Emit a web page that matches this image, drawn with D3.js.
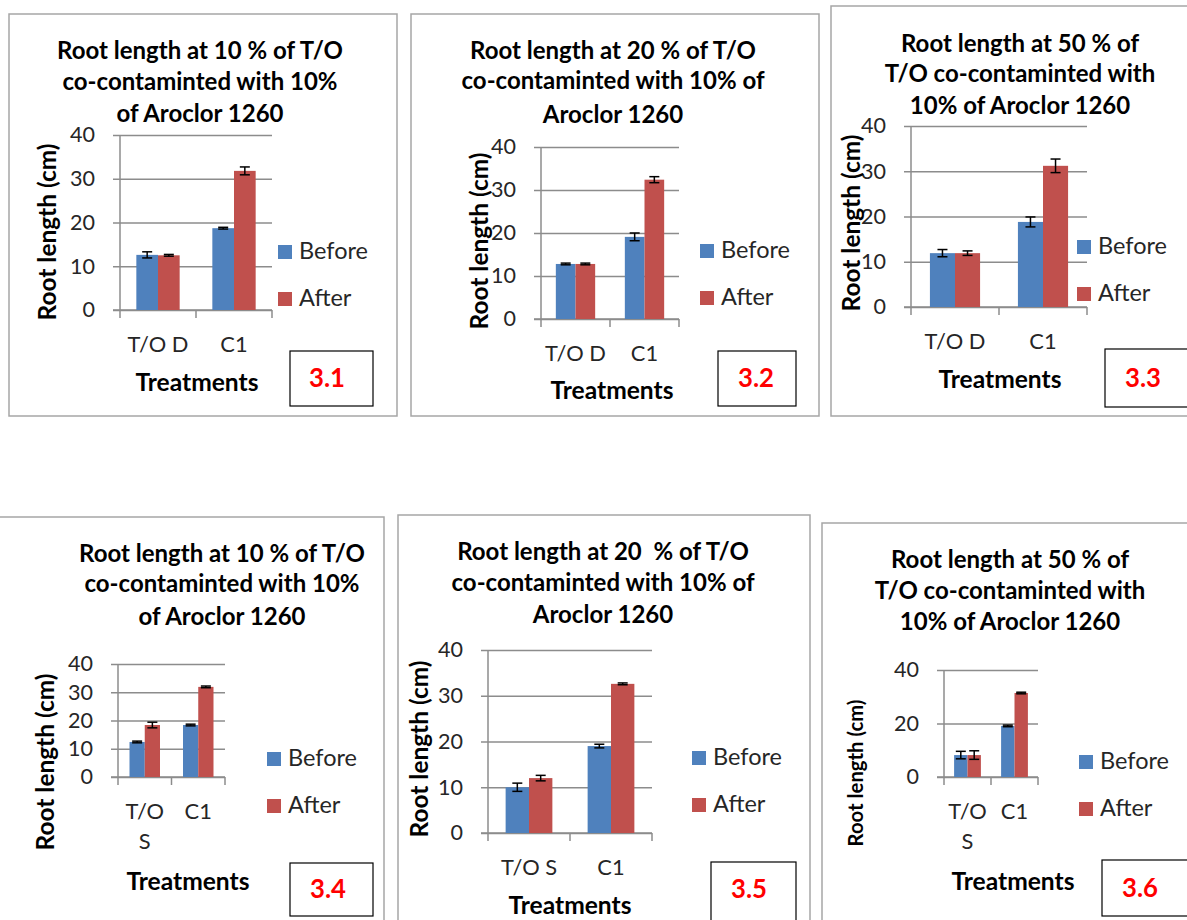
<!DOCTYPE html>
<html>
<head>
<meta charset="utf-8">
<script src="https://cdn.jsdelivr.net/npm/d3@7"></script>
<style>
  html, body { margin: 0; padding: 0; background: #fff; }
  svg { display: block; }
  text { font-family: Lato, "Liberation Sans", sans-serif; }
</style>
</head>
<body>
<svg id="chart" width="1187" height="920"></svg>
<script>
// ---------- DATA ----------
const series = ["Before", "After"];
const categoriesTop = ["T/O D", "C1"];
const categoriesBottom = ["T/O S", "C1"];
const panelIds = ["3.1", "3.2", "3.3", "3.4", "3.5", "3.6"];
const titles = [
  ["Root length at 10 % of T/O", "co-contaminted with 10%", "of Aroclor 1260"],
  ["Root length at 20 % of T/O", "co-contaminted with 10% of", "Aroclor 1260"],
  ["Root length at 50 % of", "T/O co-contaminted with", "10% of Aroclor 1260"],
  ["Root length at 10 % of T/O", "co-contaminted with 10%", "of Aroclor 1260"],
  ["Root length at 20  % of T/O", "co-contaminted with 10% of", "Aroclor 1260"],
  ["Root length at 50 % of", "T/O co-contaminted with", "10% of Aroclor 1260"]
];
const yAxisTitle = "Root length (cm)";
const xAxisTitle = "Treatments";
const beforeValues = [[12.6, 18.7], [12.8, 19.1], [11.9, 18.8], [12.4, 18.4], [10.0, 19.0], [8.2, 19.1]];
const afterValues  = [[12.5, 31.8], [12.8, 32.4], [11.9, 31.2], [18.4, 31.9], [12.0, 32.6], [8.2, 31.4]];
const beforeErrors = [[0.7, 0.2], [0.2, 0.9], [0.8, 1.1], [0.3, 0.3], [0.9, 0.4], [1.4, 0.3]];
const afterErrors  = [[0.2, 0.9], [0.2, 0.7], [0.5, 1.5], [1.0, 0.3], [0.6, 0.2], [1.6, 0.3]];
const ticksTen = [0, 10, 20, 30, 40];
const ticksTwenty = [0, 20, 40];
const yMax = 40;

// ---------- LAYOUT ----------
const layouts = [
  { cats: categoriesTop, ticks: ticksTen, wrap: false, yTitleScale: 1,
    frame: [9, 14, 397, 416], titleX: 200, titleY: [59, 90, 122],
    plot: [120, 272, 135, 310], legend: [278, 245], yTitle: [56, 232], xTitle: [197, 391],
    box: [290, 351, 373, 406], boxText: [327, 387] },
  { cats: categoriesTop, ticks: ticksTen, wrap: false, yTitleScale: 1,
    frame: [411, 14, 819, 416], titleX: 613, titleY: [59, 89, 123],
    plot: [541, 679, 147, 319], legend: [700, 244], yTitle: [488, 241], xTitle: [612, 399],
    box: [718, 351, 796, 406], boxText: [756, 387] },
  { cats: categoriesTop, ticks: ticksTen, wrap: false, yTitleScale: 1,
    frame: [831, 6, 1195, 416], titleX: 1020, titleY: [52, 82, 114],
    plot: [911, 1087, 126, 307], legend: [1077, 240], yTitle: [860, 223], xTitle: [1000, 388],
    box: [1105, 349, 1195, 407], boxText: [1143, 387] },
  { cats: categoriesBottom, ticks: ticksTen, wrap: true, yTitleScale: 1,
    frame: [-5, 517, 384, 930], titleX: 222, titleY: [562, 592, 625],
    plot: [118, 225, 664, 777], legend: [267, 752], yTitle: [54, 762], xTitle: [188, 890],
    box: [290, 863, 373, 916], boxText: [328, 898] },
  { cats: categoriesBottom, ticks: ticksTen, wrap: false, yTitleScale: 1,
    frame: [398, 515, 810, 930], titleX: 603, titleY: [560, 591, 623],
    plot: [488, 652, 650, 833], legend: [692, 751], yTitle: [428, 749], xTitle: [570, 914],
    box: [711, 862, 796, 930], boxText: [749, 898] },
  { cats: categoriesBottom, ticks: ticksTwenty, wrap: true, yTitleScale: 0.83,
    frame: [822, 523, 1195, 930], titleX: 1010, titleY: [568, 599, 630],
    plot: [944, 1038, 670, 777], legend: [1079, 755], yTitle: [863, 773], xTitle: [1013, 890],
    box: [1102, 860, 1195, 916], boxText: [1140, 897] }
];

const colors = { Before: "#4f81bd", After: "#c0504d" };
const gridColor = "#8c8c8c";
const textGray = "#262626";
const svg = d3.select("#chart");
svg.append("rect").attr("width", 1187).attr("height", 920).attr("fill", "#fff");

// font sizes fitted so that sample strings get the reference widths
function fitSize(str, weight, targetWidth) {
  const t = svg.append("text").attr("font-size", 100).attr("font-weight", weight)
    .style("white-space", "pre").text(str);
  const w = t.node().getComputedTextLength();
  t.remove();
  return 100 * targetWidth / w;
}
const fsTitle = fitSize("Root length at 10 % of T/O", "bold", 286);
const fsYTitle = fitSize(yAxisTitle, "bold", 177);
const fsXTitle = fitSize(xAxisTitle, "bold", 123);
const fsTick = fitSize("40", "normal", 25);
const fsCat = fitSize("T/O D", "normal", 61);
const fsLegend = fitSize("Before", "normal", 69);
const fsBox = fitSize("3.1", "bold", 36);

layouts.forEach((L, i) => {
  const g = svg.append("g");
  const [fx0, fy0, fx1, fy1] = L.frame;
  g.append("rect").attr("x", fx0).attr("y", fy0).attr("width", fx1 - fx0).attr("height", fy1 - fy0)
    .attr("fill", "none").attr("stroke", "#a6a6a6").attr("stroke-width", 1.5);

  // title
  titles[i].forEach((t, k) => {
    g.append("text").attr("x", L.titleX).attr("y", L.titleY[k]).attr("text-anchor", "middle")
      .attr("font-size", fsTitle).attr("font-weight", "bold").attr("fill", "#000")
      .style("white-space", "pre").text(t);
  });

  const [px0, px1, pyTop, pyBot] = L.plot;
  const x = d3.scaleBand().domain(L.cats).range([px0, px1]).paddingInner(0.43).paddingOuter(0.215);
  const xs = d3.scaleBand().domain(series).range([0, x.bandwidth()]);
  const y = d3.scaleLinear().domain([0, yMax]).range([pyBot, pyTop]);

  // y axis with gridlines
  const yAxis = d3.axisLeft(y).tickValues(L.ticks).tickSizeInner(-(px1 - px0 + 7)).tickSizeOuter(0).tickPadding(18);
  const ga = g.append("g").attr("transform", `translate(${px0 - 7},0)`).call(yAxis);
  ga.select(".domain").remove();
  ga.selectAll(".tick line").attr("stroke", gridColor).attr("stroke-width", 1.5);
  ga.selectAll(".tick text").attr("font-size", fsTick).attr("fill", textGray)
    .style("font-family", "Lato, 'Liberation Sans', sans-serif");

  // y axis line
  g.append("line").attr("x1", px0).attr("x2", px0).attr("y1", pyTop).attr("y2", pyBot)
    .attr("stroke", gridColor).attr("stroke-width", 1.5);

  // x axis line and boundary ticks
  g.append("line").attr("x1", px0 - 7).attr("x2", px1).attr("y1", pyBot).attr("y2", pyBot)
    .attr("stroke", gridColor).attr("stroke-width", 1.5);
  const bounds = [px0].concat(L.cats.map(c => x(c) + x.bandwidth() + x.step() * 0.215));
  bounds.forEach(b => {
    g.append("line").attr("x1", b).attr("x2", b).attr("y1", pyBot).attr("y2", pyBot + 8)
      .attr("stroke", gridColor).attr("stroke-width", 1.5);
  });

  // bars
  const rows = L.cats.map((c, j) => ({
    cat: c,
    vals: [
      { s: "Before", v: beforeValues[i][j], e: beforeErrors[i][j] },
      { s: "After", v: afterValues[i][j], e: afterErrors[i][j] }
    ]
  }));
  const cg = g.selectAll("g.cat").data(rows).join("g").attr("class", "cat")
    .attr("transform", d => `translate(${x(d.cat)},0)`);
  cg.selectAll("rect").data(d => d.vals).join("rect")
    .attr("x", d => xs(d.s)).attr("width", xs.bandwidth())
    .attr("y", d => y(d.v)).attr("height", d => y(0) - y(d.v))
    .attr("fill", d => colors[d.s]);
  // error bars
  const cap = 5;
  const eb = cg.selectAll("g.err").data(d => d.vals).join("g").attr("class", "err")
    .attr("stroke", "#000").attr("stroke-width", 1.5);
  const cx = d => xs(d.s) + xs.bandwidth() / 2;
  eb.append("line").attr("x1", cx).attr("x2", cx)
    .attr("y1", d => y(d.v + d.e)).attr("y2", d => y(d.v - d.e));
  eb.append("line").attr("x1", d => cx(d) - cap).attr("x2", d => cx(d) + cap)
    .attr("y1", d => y(d.v + d.e)).attr("y2", d => y(d.v + d.e));
  eb.append("line").attr("x1", d => cx(d) - cap).attr("x2", d => cx(d) + cap)
    .attr("y1", d => y(d.v - d.e)).attr("y2", d => y(d.v - d.e));

  // category labels
  L.cats.forEach(c => {
    const parts = L.wrap ? c.split(" ") : [c];
    parts.forEach((p, k) => {
      g.append("text").attr("x", x(c) + x.bandwidth() / 2).attr("y", pyBot + 42 + k * 30)
        .attr("text-anchor", "middle").attr("font-size", fsCat).attr("fill", textGray).text(p);
    });
  });

  // axis titles
  g.append("text").attr("transform", `translate(${L.yTitle[0]},${L.yTitle[1]}) rotate(-90)`)
    .attr("text-anchor", "middle").attr("font-size", fsYTitle * L.yTitleScale).attr("font-weight", "bold").attr("fill", "#000")
    .text(yAxisTitle);
  g.append("text").attr("x", L.xTitle[0]).attr("y", L.xTitle[1]).attr("text-anchor", "middle")
    .attr("font-size", fsXTitle).attr("font-weight", "bold").attr("fill", "#000").text(xAxisTitle);

  // legend
  series.forEach((s, k) => {
    const ly = L.legend[1] + k * 47;
    g.append("rect").attr("x", L.legend[0]).attr("y", ly).attr("width", 14).attr("height", 14).attr("fill", colors[s]);
    g.append("text").attr("x", L.legend[0] + 21).attr("y", ly + 14).attr("font-size", fsLegend).attr("fill", textGray).text(s);
  });

  // panel number box
  const [bx0, by0, bx1, by1] = L.box;
  g.append("rect").attr("x", bx0).attr("y", by0).attr("width", bx1 - bx0).attr("height", by1 - by0)
    .attr("fill", "#fff").attr("stroke", "#000").attr("stroke-width", 1.2);
  g.append("text").attr("x", L.boxText[0]).attr("y", L.boxText[1]).attr("text-anchor", "middle")
    .attr("font-size", fsBox).attr("font-weight", "bold").attr("fill", "#ff0000").text(panelIds[i]);
});
</script>
</body>
</html>
